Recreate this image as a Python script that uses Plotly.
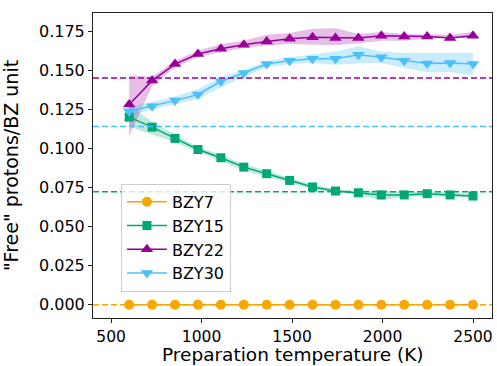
import plotly.graph_objects as go

temps = [600, 726.7, 853.3, 980, 1106.7, 1233.3, 1360, 1486.7, 1613.3, 1740,
         1866.7, 1993.3, 2120, 2246.7, 2373.3, 2500]

bzy7 = [0.0] * 16
bzy15 = [0.1201, 0.1137, 0.1065, 0.0994, 0.0941, 0.0881, 0.0839, 0.0796,
         0.0754, 0.0728, 0.0717, 0.0703, 0.0703, 0.0711, 0.0703, 0.0696]
bzy22 = [0.1282, 0.1435, 0.1541, 0.1605, 0.1639, 0.1665, 0.1686, 0.1703,
         0.1712, 0.1708, 0.1708, 0.1722, 0.1718, 0.1718, 0.1708, 0.1722]
bzy30 = [0.1239, 0.1271, 0.1307, 0.1346, 0.1431, 0.1484, 0.1541, 0.1563,
         0.1575, 0.1575, 0.1601, 0.1584, 0.1563, 0.1544, 0.1548, 0.1541]

bzy15_lo = [0.114, 0.109, 0.104, 0.098, 0.092, 0.086, 0.082, 0.078,
            0.074, 0.0715, 0.0705, 0.067, 0.069, 0.0695, 0.069, 0.0685]
bzy15_hi = [0.128, 0.117, 0.109, 0.101, 0.096, 0.090, 0.086, 0.081,
            0.077, 0.074, 0.073, 0.0735, 0.072, 0.0725, 0.072, 0.071]
bzy22_lo = [0.108, 0.140, 0.152, 0.1584, 0.1618, 0.1644, 0.166, 0.167,
            0.1665, 0.1661, 0.1675, 0.1691, 0.169, 0.1705, 0.171, 0.1705]
bzy22_hi = [0.147, 0.146, 0.1563, 0.1627, 0.167, 0.169, 0.1729, 0.174,
            0.1767, 0.1771, 0.1733, 0.1746, 0.1733, 0.1729, 0.1729, 0.1746]
bzy30_lo = [0.1209, 0.1249, 0.1286, 0.1318, 0.1392, 0.1456, 0.152, 0.1541,
            0.1548, 0.1537, 0.1545, 0.1548, 0.1516, 0.149, 0.149, 0.1469]
bzy30_hi = [0.1265, 0.1298, 0.1333, 0.1382, 0.1456, 0.1505, 0.1559, 0.1584,
            0.1601, 0.1622, 0.1655, 0.1622, 0.1612, 0.1612, 0.1612, 0.1612]

ref_levels = [0.0, 0.0724, 0.1452, 0.1142]

names = ["BZY7", "BZY15", "BZY22", "BZY30"]
colors = ["#F7A800", "#00A878", "#990099", "#4DC0FA"]
fills = ["rgba(247,168,0,0.25)", "rgba(0,168,120,0.25)",
         "rgba(153,0,153,0.25)", "rgba(77,192,250,0.3)"]
symbols = ["circle", "square", "triangle-up", "triangle-down"]
sizes = [10, 9, 11, 11]
values = [bzy7, bzy15, bzy22, bzy30]
lows = [None, bzy15_lo, bzy22_lo, bzy30_lo]
highs = [None, bzy15_hi, bzy22_hi, bzy30_hi]

fig = go.Figure()

for i in range(4):
    if lows[i] is not None:
        fig.add_trace(go.Scatter(
            x=temps + temps[::-1], y=highs[i] + lows[i][::-1],
            fill="toself", fillcolor=fills[i], line=dict(width=0),
            mode="lines", hoverinfo="skip", showlegend=False))

for lvl, c in zip(ref_levels, colors):
    fig.add_shape(type="line", xref="paper", x0=0, x1=1, yref="y", y0=lvl, y1=lvl,
                  line=dict(color=c, width=1.5, dash="6px,3px"), layer="above")

for i in range(4):
    fig.add_trace(go.Scatter(
        x=temps, y=values[i], name=names[i], mode="lines+markers",
        line=dict(color=colors[i], width=1.5),
        marker=dict(symbol=symbols[i], size=sizes[i], color=colors[i])))

font = "DejaVu Sans, Liberation Sans, sans-serif"
fig.update_layout(
    width=497, height=366,
    margin=dict(l=93, r=5, t=13, b=48),
    paper_bgcolor="white", plot_bgcolor="white",
    font=dict(family=font, size=16, color="black"),
    showlegend=True,
    legend=dict(x=0.07, y=0.44, xanchor="left", yanchor="top",
                bgcolor="rgba(255,255,255,0.8)", bordercolor="#cccccc", borderwidth=1,
                font=dict(size=16), tracegroupgap=0, itemwidth=40),
)
fig.add_annotation(text="Preparation temperature (K)", xref="paper", yref="paper",
                   x=0.5, y=-0.1574, xanchor="center", yanchor="bottom",
                   showarrow=False, font=dict(size=18.5), borderpad=0)
fig.update_xaxes(range=[400, 2605], tickvals=[500, 1000, 1500, 2000, 2500],
                 showgrid=False, zeroline=False, showline=True, mirror=True,
                 linecolor="#222222", linewidth=1, ticks="outside", ticklen=4,
                 tickcolor="#222222", tickfont=dict(size=15.5), automargin=False)
fig.update_yaxes(range=[-0.0085, 0.1868], tickvals=[0, 0.025, 0.05, 0.075, 0.1, 0.125, 0.15, 0.175],
                 tickformat=".3f",
                 showgrid=False, zeroline=False, showline=True, mirror=True,
                 linecolor="#222222", linewidth=1, ticks="outside", ticklen=4,
                 tickcolor="#222222", tickfont=dict(size=16), automargin=False,
                 title=dict(text='"Free" protons/BZ unit', font=dict(size=19)))

fig.write_html("out.html")
